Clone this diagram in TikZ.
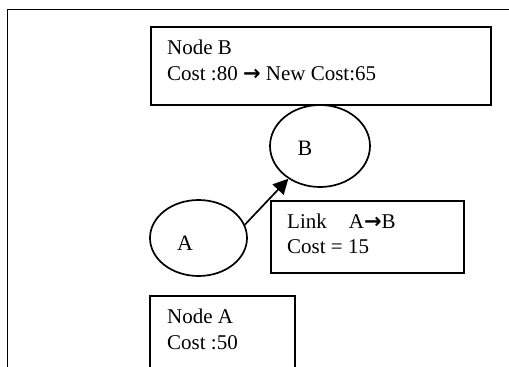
\documentclass[tikz,border=0pt]{standalone}
\usepackage{fontspec}
\setmainfont{Liberation Serif}
\newfontfamily\arrowfont{DejaVu Sans}
\newcommand{\rarrow}{{\arrowfont\bfseries →}}
\usetikzlibrary{shapes.geometric,arrows.meta}
\tikzset{
  box/.style={draw, line width=1.7pt, rectangle, inner sep=0pt, anchor=north west},
  oval/.style={draw, line width=1.7pt, ellipse, inner sep=0pt},
  txt/.style={anchor=base west, inner sep=0pt, font=\fontsize{21}{26}\selectfont},
  lbl/.style={anchor=base, inner sep=0pt, font=\fontsize{22}{26}\selectfont},
  link/.style={line width=1.7pt, -{Triangle[length=15pt,width=15pt]}}
}
\begin{document}
\begin{tikzpicture}[x=1pt,y=-1pt]
\useasboundingbox (0,0) rectangle (509,367);
\fill[white] (0,0) rectangle (509,367);
\clip (0,0) rectangle (509,367);
% outer frame
\draw[line width=1.8pt] (7.5,390) -- (7.5,9.5) -- (530,9.5);
% Node B box
\node[box, minimum width=340pt, minimum height=78pt] (boxB) at (150,26) {};
\node[txt] (tB1) at (167,54) {Node B};
\node[txt] (tB2) at (167,80) {Cost :80 \rarrow{} New Cost:65};
% ellipses
\node[oval, minimum width=100pt, minimum height=82pt] (B) at (320,146) {};
\node[lbl] (lB) at (305,155) {B};
\node[oval, minimum width=97pt, minimum height=76pt] (A) at (198.5,238) {};
\node[lbl] (lA) at (185,250) {A};
% link box
\node[box, minimum width=193pt, minimum height=72pt] (boxL) at (270,200) {};
\node[txt] (tL1) at (287,228) {Link\hspace{22pt}A\rarrow B};
\node[txt] (tL2) at (287,253) {Cost = 15};
% Node A box (open at bottom)
\draw[line width=1.7pt] (150,390) -- (150,296) -- (295,296) -- (295,390);
\node[txt] (tA1) at (167,323) {Node A};
\node[txt] (tA2) at (167,349) {Cost :50};
% arrow
\draw[link] (A.16) -- (B.226);
\end{tikzpicture}
\end{document}
